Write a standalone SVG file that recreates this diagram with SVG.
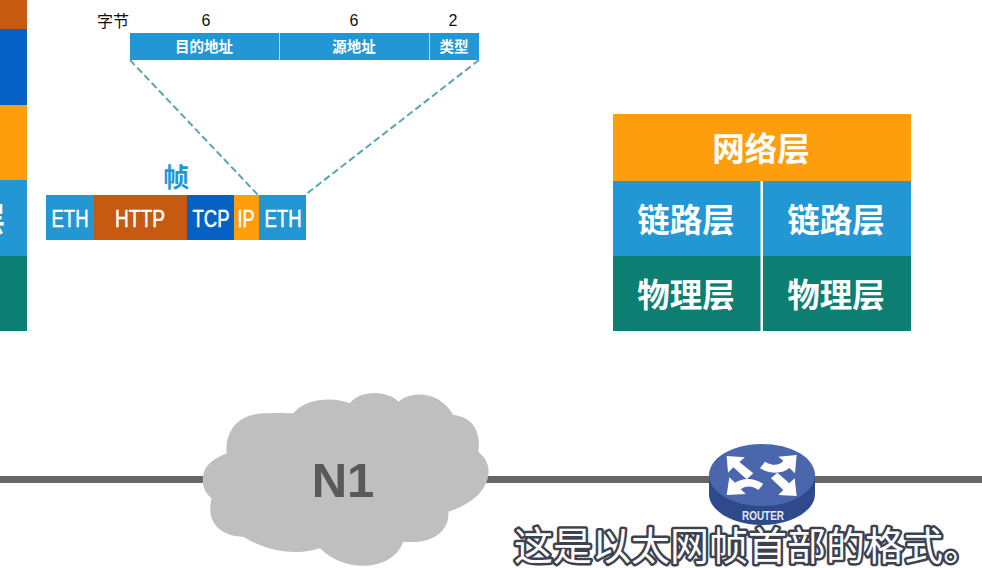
<svg xmlns="http://www.w3.org/2000/svg" width="982" height="568" viewBox="0 0 982 568">
<style>
text{font-family:"Noto Sans CJK SC","Liberation Sans",sans-serif;text-anchor:middle}
.l{font-family:"Liberation Sans","Noto Sans CJK SC",sans-serif}
.w{fill:#fff;font-weight:700}
.big{font-size:32.5px}
.hdr{font-size:14.5px}
.seg{font-size:23px;font-weight:400;stroke:#fff;stroke-width:.5px}
.k{fill:#111;font-size:16px}
.blue{fill:#2297d4}.orange{fill:#ff9e0c}.green{fill:#0d7e72}.brown{fill:#c65a10}.dblue{fill:#0562c4}
.dash{stroke:#5aa5b2;stroke-width:2;stroke-dasharray:7 3.5;fill:none}
.sub{font-size:39px;fill:#fff;stroke:#3d4250;stroke-width:5px;paint-order:stroke;stroke-linejoin:round}
</style>
<rect width="982" height="568" fill="#fff"/>
<g id="connectors">
<line x1="0" y1="479.500" x2="982" y2="479.500" stroke="#666" stroke-width="7"/>
<line class="dash" x1="130" y1="60" x2="258" y2="195"/>
<line class="dash" x1="479" y1="60" x2="305" y2="195"/>
</g>
<g id="left-stack">
<rect class="brown" x="0" y="0" width="27" height="29"/>
<rect class="dblue" x="0" y="29" width="27" height="76"/>
<rect class="orange" x="0" y="105" width="27" height="75"/>
<rect class="blue" x="0" y="180" width="27" height="76"/>
<rect class="green" x="0" y="256" width="27" height="75"/>
<text class="w big" x="-11" y="231">层</text>
</g>
<g id="header">
<rect class="blue" x="130" y="33" width="349" height="27"/>
<path d="M279.500 33V60M429.500 33V60" stroke="#b5dcf0" stroke-width="1"/>
<text class="w hdr" x="204" y="52">目的地址</text>
<text class="w hdr" x="354" y="52">源地址</text>
<text class="w hdr" x="454" y="52">类型</text>
<text class="k" x="113" y="27">字节</text>
<text class="k l" x="206" y="26">6</text>
<text class="k l" x="354" y="26">6</text>
<text class="k l" x="453" y="26">2</text>
</g>
<g id="frame">
<text x="176" y="187" font-size="26" font-weight="700" fill="#2297d4">帧</text>
<rect class="blue" x="46" y="195" width="48" height="45"/>
<rect class="brown" x="94" y="195" width="93" height="45"/>
<rect class="dblue" x="187" y="195" width="47" height="45"/>
<rect class="orange" x="234" y="195" width="25" height="45"/>
<rect class="blue" x="259" y="195" width="47" height="45"/>
<text class="w seg l" x="70" y="227" textLength="37" lengthAdjust="spacingAndGlyphs">ETH</text>
<text class="w seg l" x="140" y="227" textLength="50" lengthAdjust="spacingAndGlyphs">HTTP</text>
<text class="w seg l" x="211" y="227" textLength="37" lengthAdjust="spacingAndGlyphs">TCP</text>
<text class="w seg l" x="246" y="227" textLength="17" lengthAdjust="spacingAndGlyphs">IP</text>
<text class="w seg l" x="283" y="227" textLength="37" lengthAdjust="spacingAndGlyphs">ETH</text>
</g>
<g id="stack">
<rect class="orange" x="613" y="114" width="298" height="67"/>
<rect class="blue" x="613" y="181" width="147.500" height="75"/>
<rect class="blue" x="763" y="181" width="148" height="75"/>
<rect class="green" x="613" y="256" width="147.500" height="75"/>
<rect class="green" x="763" y="256" width="148" height="75"/>
<text class="w big" x="761" y="161">网络层</text>
<text class="w big" x="686" y="232">链路层</text>
<text class="w big" x="836" y="232">链路层</text>
<text class="w big" x="686" y="307">物理层</text>
<text class="w big" x="836" y="307">物理层</text>
</g>
<g id="cloud">
<path transform="translate(190 385) scale(.3333)" fill="#bfbfbf" d="M40 270C45 235 85 215 110 205C105 140 140 85 230 85C270 82 300 85 310 85C345 40 430 35 480 55C510 15 590 15 625 50C670 15 750 20 790 90C840 95 875 130 865 200C890 220 905 250 890 290C870 340 820 365 775 380C780 435 730 480 640 470C610 555 470 570 390 490C330 510 240 505 160 455C100 455 45 420 65 340C40 320 35 295 40 270Z"/>
<text class="l" x="343" y="497" font-size="49" font-weight="700" fill="#595959">N1</text>
</g>
<g id="router">
<path d="M709 475V494C709 511 733 525 762 525S815 511 815 494V475Z" fill="#2f4a8c"/>
<ellipse cx="762" cy="475" rx="53" ry="31" fill="#4a67ad"/>
<g transform="translate(700 440) scale(.3333)" fill="#fff">
<path d="M80 48L135 52L118 66L160 100L140 118L100 82L84 98Z"/>
<path d="M290 45L285 100L268 84C250 100 215 105 180 85L195 65C220 80 240 75 250 62L235 50Z"/>
<path d="M80 165L88 112L105 128C125 115 160 110 190 132L175 150C155 135 135 138 122 148L138 162Z"/>
<path d="M290 168L235 165L250 150L213 115L232 98L268 130L284 115Z"/>
</g>
<text class="l" x="763" y="520" font-size="12.500" font-weight="700" fill="#e4e8f2" textLength="42" lengthAdjust="spacingAndGlyphs">ROUTER</text>
</g>
<g id="subtitle">
<text class="sub" x="748" y="560">这是以太网帧首部的格式。</text>
</g>
</svg>
